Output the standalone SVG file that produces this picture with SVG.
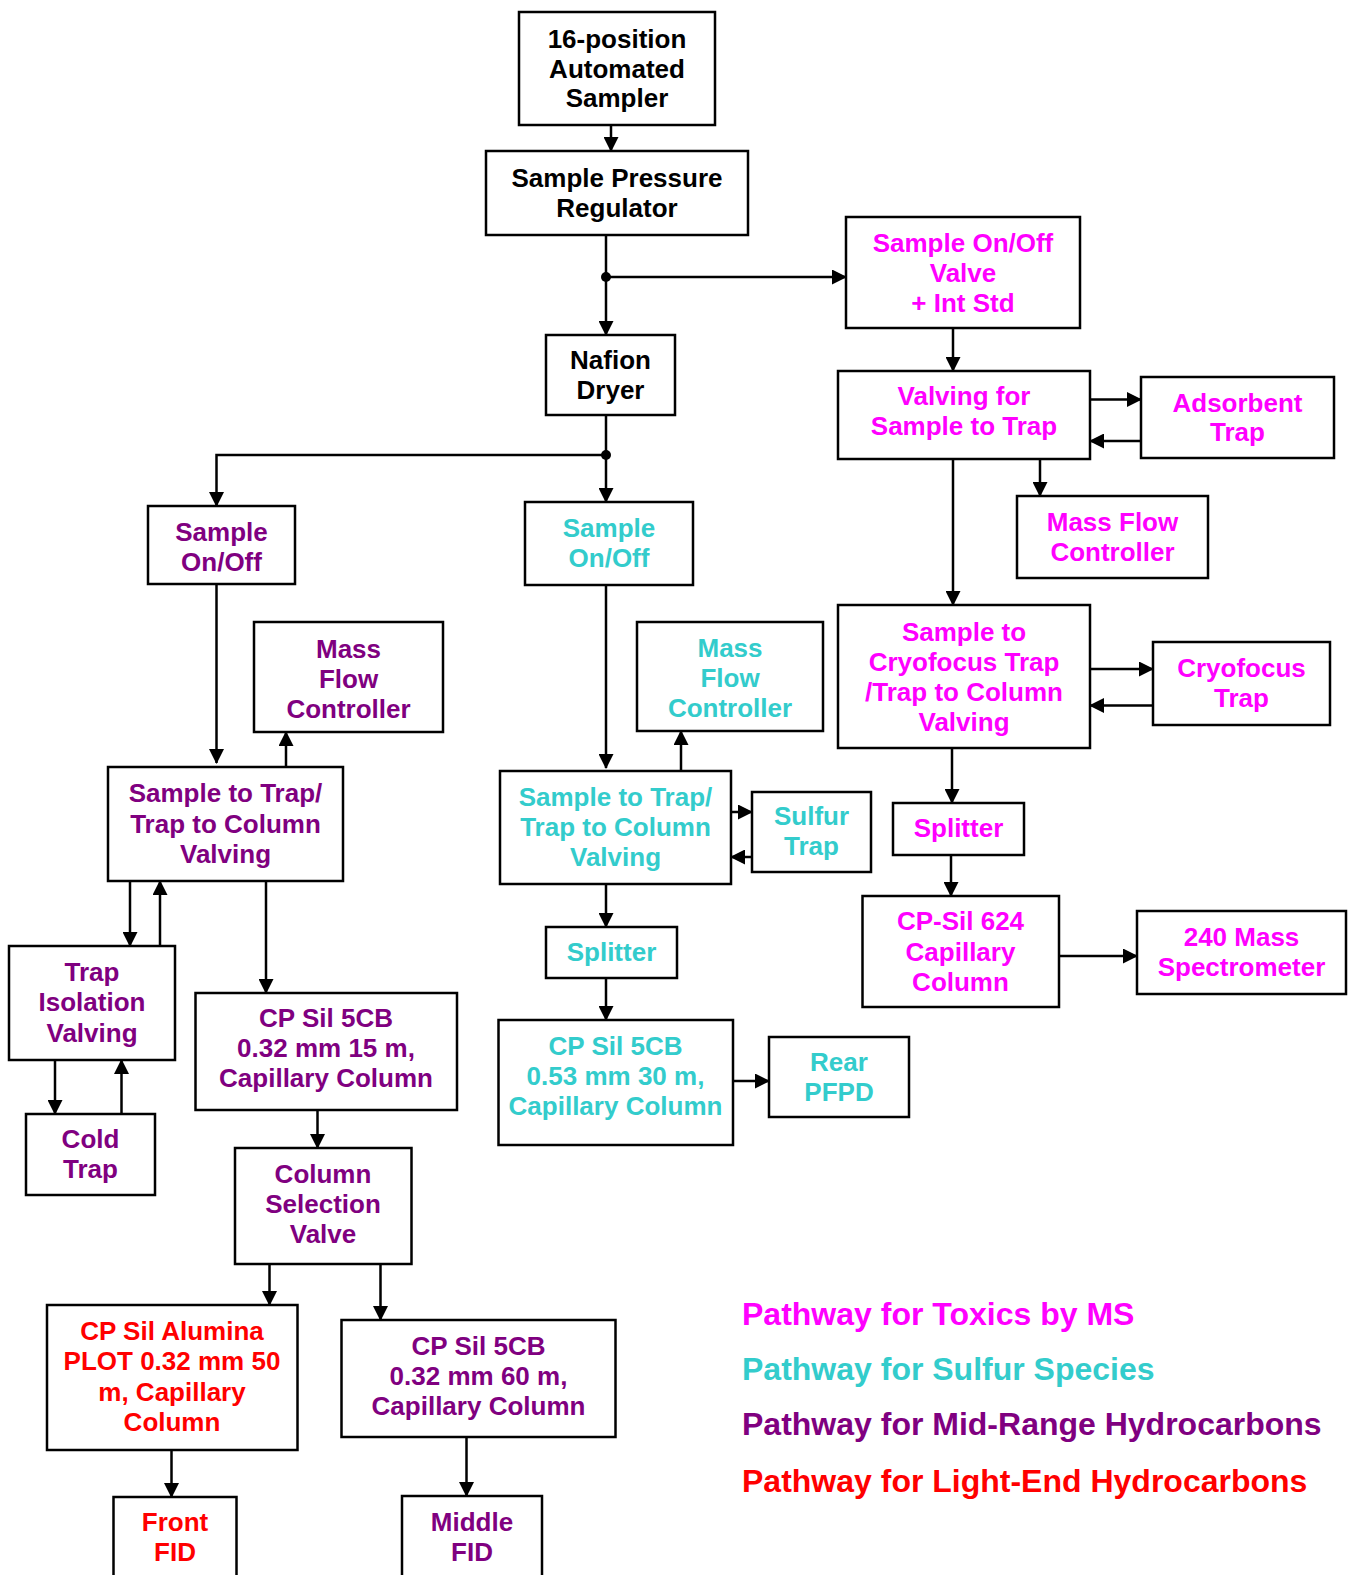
<svg xmlns="http://www.w3.org/2000/svg" width="1352" height="1575" viewBox="0 0 1352 1575">
<style>
  .box { fill: #ffffff; stroke: #000000; stroke-width: 2.5; }
  .t { font-family: "Liberation Sans", Arial, sans-serif; font-weight: bold; font-size: 26px; text-anchor: middle; }
  .blk { fill: #000000; }
  .mag { fill: #FF00FF; }
  .cyn { fill: #33CCCC; }
  .pur { fill: #800080; }
  .red { fill: #FF0000; }
  .lg { font-family: "Liberation Sans", Arial, sans-serif; font-weight: bold; font-size: 32px; }
  .c { fill: none; stroke: #000000; stroke-width: 2.5; }
  .ca { fill: none; stroke: #000000; stroke-width: 2.5; marker-end: url(#ah); }
</style>
<defs>
  <marker id="ah" markerUnits="userSpaceOnUse" markerWidth="15" markerHeight="15" viewBox="0 0 15 15" refX="14" refY="7.5" orient="auto">
    <path d="M0,0 L15,7.5 L0,15 z" fill="#000000"/>
  </marker>
</defs>
<rect width="1352" height="1575" fill="#ffffff"/>

<g id="connectors">
  <path class="ca" d="M611,125 V151"/>
  <path class="ca" d="M606,235 V335"/>
  <path class="ca" d="M606,277 H846"/>
  <circle cx="606" cy="277" r="5" fill="#000000"/>
  <path class="ca" d="M606,415 V502"/>
  <path class="ca" d="M606,455 H216.5 V506"/>
  <circle cx="606" cy="455" r="5" fill="#000000"/>
  <path class="ca" d="M953,328 V371"/>
  <path class="ca" d="M1090,399.5 H1141"/>
  <path class="ca" d="M1141,441 H1090"/>
  <path class="ca" d="M1040,459 V496"/>
  <path class="ca" d="M953,459 V605"/>
  <path class="ca" d="M1090,669 H1153"/>
  <path class="ca" d="M1153,705.5 H1090"/>
  <path class="ca" d="M952,748 V803"/>
  <path class="ca" d="M951,855 V896"/>
  <path class="ca" d="M1059,956 H1137"/>
  <path class="ca" d="M606,585 V768"/>
  <path class="ca" d="M681,771 V731"/>
  <path class="ca" d="M731,812 H752"/>
  <path class="ca" d="M752,857 H731"/>
  <path class="ca" d="M606,884 V927"/>
  <path class="ca" d="M606,978 V1020"/>
  <path class="ca" d="M733,1081 H769"/>
  <path class="ca" d="M216.5,584 V763"/>
  <path class="ca" d="M286,767 V732"/>
  <path class="ca" d="M130,881 V946"/>
  <path class="ca" d="M160,946 V881"/>
  <path class="ca" d="M55,1060 V1114"/>
  <path class="ca" d="M121.5,1114 V1060"/>
  <path class="ca" d="M266,881 V993"/>
  <path class="ca" d="M317.5,1110 V1148"/>
  <path class="ca" d="M269.5,1264 V1305"/>
  <path class="ca" d="M380.5,1264 V1320"/>
  <path class="ca" d="M171.5,1450 V1497"/>
  <path class="ca" d="M466.5,1437 V1496"/>
</g>

<g id="n-sampler">
  <rect class="box" x="519" y="12" width="196" height="113"/>
  <text class="t blk"><tspan x="617" y="48">16-position</tspan><tspan x="617" y="78">Automated</tspan><tspan x="617" y="107">Sampler</tspan></text>
</g>
<g id="n-regulator">
  <rect class="box" x="486" y="151" width="262" height="84"/>
  <text class="t blk"><tspan x="617" y="187">Sample Pressure</tspan><tspan x="617" y="217">Regulator</tspan></text>
</g>
<g id="n-nafion">
  <rect class="box" x="546" y="335" width="129" height="80"/>
  <text class="t blk"><tspan x="610.5" y="369">Nafion</tspan><tspan x="610.5" y="399">Dryer</tspan></text>
</g>
<g id="n-ms-onoff">
  <rect class="box" x="846" y="217" width="234" height="111"/>
  <text class="t mag"><tspan x="963" y="252">Sample On/Off</tspan><tspan x="963" y="282">Valve</tspan><tspan x="963" y="312">+ Int Std</tspan></text>
</g>
<g id="n-ms-valving">
  <rect class="box" x="838" y="371" width="252" height="88"/>
  <text class="t mag"><tspan x="964" y="405">Valving for</tspan><tspan x="964" y="435">Sample to Trap</tspan></text>
</g>
<g id="n-adsorbent">
  <rect class="box" x="1141" y="377" width="193" height="81"/>
  <text class="t mag"><tspan x="1237.5" y="412">Adsorbent</tspan><tspan x="1237.5" y="441">Trap</tspan></text>
</g>
<g id="n-ms-mfc">
  <rect class="box" x="1017" y="496" width="191" height="82"/>
  <text class="t mag"><tspan x="1112.5" y="531">Mass Flow</tspan><tspan x="1112.5" y="561">Controller</tspan></text>
</g>
<g id="n-ms-cryovalving">
  <rect class="box" x="838" y="605" width="252" height="143"/>
  <text class="t mag"><tspan x="964" y="641">Sample to</tspan><tspan x="964" y="671">Cryofocus Trap</tspan><tspan x="964" y="701">/Trap to Column</tspan><tspan x="964" y="731">Valving</tspan></text>
</g>
<g id="n-cryofocus">
  <rect class="box" x="1153" y="642" width="177" height="83"/>
  <text class="t mag"><tspan x="1241.5" y="677">Cryofocus</tspan><tspan x="1241.5" y="707">Trap</tspan></text>
</g>
<g id="n-ms-splitter">
  <rect class="box" x="893" y="803" width="131" height="52"/>
  <text class="t mag"><tspan x="958.5" y="837">Splitter</tspan></text>
</g>
<g id="n-cpsil624">
  <rect class="box" x="862.5" y="896" width="196.5" height="111"/>
  <text class="t mag"><tspan x="960.5" y="930">CP-Sil 624</tspan><tspan x="960.5" y="961">Capillary</tspan><tspan x="960.5" y="991">Column</tspan></text>
</g>
<g id="n-ms240">
  <rect class="box" x="1137" y="911" width="209" height="83"/>
  <text class="t mag"><tspan x="1241.5" y="946">240 Mass</tspan><tspan x="1241.5" y="976">Spectrometer</tspan></text>
</g>

<g id="n-s-onoff">
  <rect class="box" x="525" y="502" width="168" height="83"/>
  <text class="t cyn"><tspan x="609" y="537">Sample</tspan><tspan x="609" y="567">On/Off</tspan></text>
</g>
<g id="n-s-mfc">
  <rect class="box" x="637" y="622" width="186" height="109"/>
  <text class="t cyn"><tspan x="730" y="657">Mass</tspan><tspan x="730" y="687">Flow</tspan><tspan x="730" y="717">Controller</tspan></text>
</g>
<g id="n-s-valving">
  <rect class="box" x="500" y="771" width="231" height="113"/>
  <text class="t cyn"><tspan x="615.5" y="806">Sample to Trap/</tspan><tspan x="615.5" y="836">Trap to Column</tspan><tspan x="615.5" y="866">Valving</tspan></text>
</g>
<g id="n-sulfurtrap">
  <rect class="box" x="752" y="792" width="119" height="80"/>
  <text class="t cyn"><tspan x="811.5" y="825">Sulfur</tspan><tspan x="811.5" y="855">Trap</tspan></text>
</g>
<g id="n-s-splitter">
  <rect class="box" x="546" y="927" width="131" height="51"/>
  <text class="t cyn"><tspan x="611.5" y="961">Splitter</tspan></text>
</g>
<g id="n-cpsil053">
  <rect class="box" x="498.5" y="1020" width="234.5" height="125"/>
  <text class="t cyn"><tspan x="615.5" y="1055">CP Sil 5CB</tspan><tspan x="615.5" y="1085">0.53 mm 30 m,</tspan><tspan x="615.5" y="1115">Capillary Column</tspan></text>
</g>
<g id="n-pfpd">
  <rect class="box" x="769" y="1037" width="140" height="80"/>
  <text class="t cyn"><tspan x="839" y="1071">Rear</tspan><tspan x="839" y="1101">PFPD</tspan></text>
</g>

<g id="n-h-onoff">
  <rect class="box" x="148" y="506" width="147" height="78"/>
  <text class="t pur"><tspan x="221.5" y="541">Sample</tspan><tspan x="221.5" y="571">On/Off</tspan></text>
</g>
<g id="n-h-mfc">
  <rect class="box" x="254" y="622" width="189" height="110"/>
  <text class="t pur"><tspan x="348.5" y="658">Mass</tspan><tspan x="348.5" y="688">Flow</tspan><tspan x="348.5" y="718">Controller</tspan></text>
</g>
<g id="n-h-valving">
  <rect class="box" x="108" y="767" width="235" height="114"/>
  <text class="t pur"><tspan x="225.5" y="802">Sample to Trap/</tspan><tspan x="225.5" y="833">Trap to Column</tspan><tspan x="225.5" y="863">Valving</tspan></text>
</g>
<g id="n-trapiso">
  <rect class="box" x="9" y="946" width="166" height="114"/>
  <text class="t pur"><tspan x="92" y="981">Trap</tspan><tspan x="92" y="1011">Isolation</tspan><tspan x="92" y="1042">Valving</tspan></text>
</g>
<g id="n-coldtrap">
  <rect class="box" x="26" y="1114" width="129" height="81"/>
  <text class="t pur"><tspan x="90.5" y="1148">Cold</tspan><tspan x="90.5" y="1178">Trap</tspan></text>
</g>
<g id="n-cpsil15">
  <rect class="box" x="195.5" y="993" width="261.5" height="117"/>
  <text class="t pur"><tspan x="326" y="1027">CP Sil 5CB</tspan><tspan x="326" y="1057">0.32 mm 15 m,</tspan><tspan x="326" y="1087">Capillary Column</tspan></text>
</g>
<g id="n-colsel">
  <rect class="box" x="235" y="1148" width="176.5" height="116"/>
  <text class="t pur"><tspan x="323" y="1183">Column</tspan><tspan x="323" y="1213">Selection</tspan><tspan x="323" y="1243">Valve</tspan></text>
</g>
<g id="n-alumina">
  <rect class="box" x="47" y="1305" width="250.5" height="145"/>
  <text class="t red"><tspan x="172" y="1340">CP Sil Alumina</tspan><tspan x="172" y="1370">PLOT 0.32 mm 50</tspan><tspan x="172" y="1401">m, Capillary</tspan><tspan x="172" y="1431">Column</tspan></text>
</g>
<g id="n-cpsil60">
  <rect class="box" x="341.5" y="1320" width="274" height="117"/>
  <text class="t pur"><tspan x="478.5" y="1355">CP Sil 5CB</tspan><tspan x="478.5" y="1385">0.32 mm 60 m,</tspan><tspan x="478.5" y="1415">Capillary Column</tspan></text>
</g>
<g id="n-frontfid">
  <rect class="box" x="113.5" y="1497" width="123" height="95"/>
  <text class="t red"><tspan x="175" y="1531">Front</tspan><tspan x="175" y="1561">FID</tspan></text>
</g>
<g id="n-middlefid">
  <rect class="box" x="402" y="1496" width="140" height="96"/>
  <text class="t pur"><tspan x="472" y="1531">Middle</tspan><tspan x="472" y="1561">FID</tspan></text>
</g>

<g id="legend">
  <text class="lg mag" x="742" y="1325">Pathway for Toxics by MS</text>
  <text class="lg cyn" x="742" y="1380">Pathway for Sulfur Species</text>
  <text class="lg pur" x="742" y="1435">Pathway for Mid-Range Hydrocarbons</text>
  <text class="lg red" x="742" y="1492">Pathway for Light-End Hydrocarbons</text>
</g>
</svg>
